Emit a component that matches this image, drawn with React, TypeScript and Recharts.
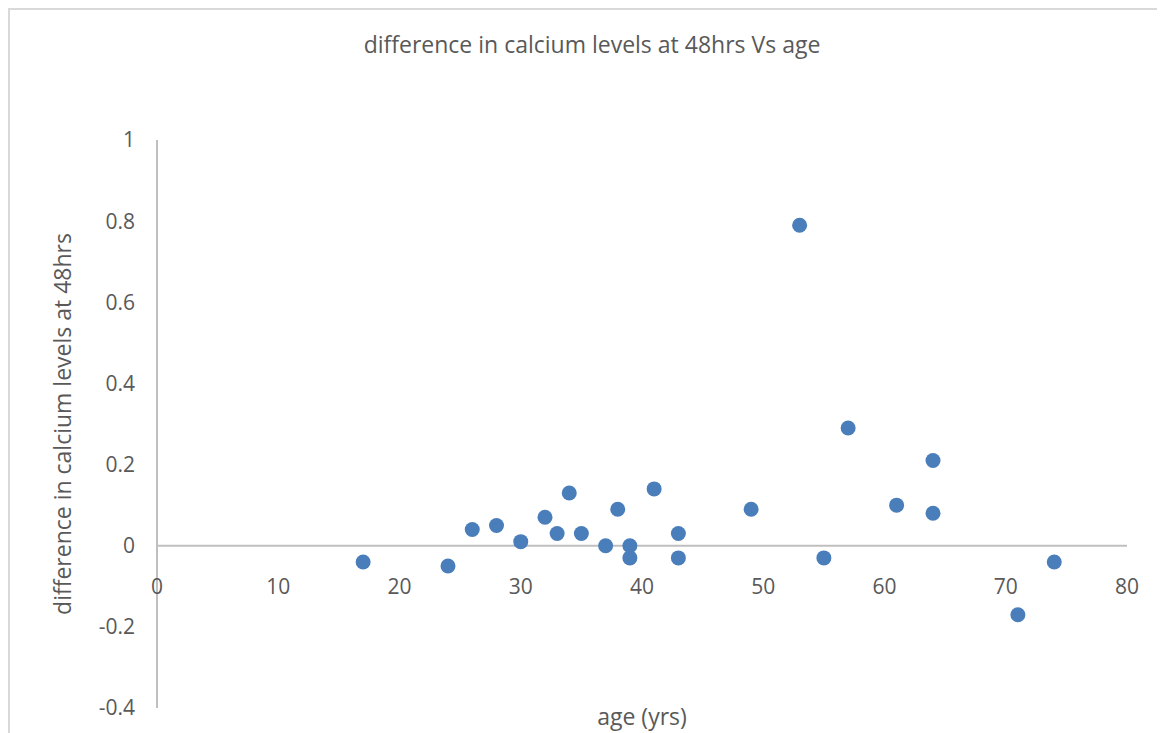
import React from 'react';
import { ScatterChart, Scatter, XAxis, YAxis, Label, ReferenceLine } from 'recharts';

const ages = [17, 24, 26, 28, 30, 32, 33, 34, 35, 37, 38, 39, 39, 41, 43, 43, 49, 53, 55, 57, 61, 64, 64, 71, 74];
const diffs = [-0.04, -0.05, 0.04, 0.05, 0.01, 0.07, 0.03, 0.13, 0.03, 0, 0.09, 0, -0.03, 0.14, 0.03, -0.03, 0.09, 0.79, -0.03, 0.29, 0.1, 0.21, 0.08, -0.17, -0.04];
const xTicks = [0, 10, 20, 30, 40, 50, 60, 70, 80];
const yTicks = [-0.4, -0.2, 0, 0.2, 0.4, 0.6, 0.8, 1];

const title = 'difference in calcium levels at 48hrs Vs age';
const xLabel = 'age (yrs)';
const yLabel = 'difference in calcium levels at 48hrs';

const data = ages.map((a, i) => ({ age: a, diff: diffs[i] }));

const FONT = '"Open Sans", sans-serif';
const FS_TICK = 21;
const FS_LABEL = 23;
const TEXT = '#595959';
const AXIS = '#bfbfbf';

const W = 1147;
const H = 723;
const M = { top: 130, right: 30, bottom: 0, left: 0 };
const XH = 25;
const YW = 147;
const plotTop = M.top;
const plotBottom = H - M.bottom - XH;
const yMin = -0.4;
const yMax = 1;
const zeroY = plotTop + ((yMax - 0) / (yMax - yMin)) * (plotBottom - plotTop);

const fmt = (v: number) => String(Math.round(v * 10) / 10);

const XTick = (props: any) => {
  const { x, payload } = props;
  return (
    <text x={x} y={zeroY + 48} textAnchor="middle" fill={TEXT} fontSize={FS_TICK} fontFamily={FONT}>
      {payload.value}
    </text>
  );
};

const Dot = (props: any) => {
  const { cx, cy } = props;
  return <circle cx={cx} cy={cy} r={7.5} fill="#4a7ebb" />;
};

export default function App() {
  return (
    <div style={{ position: 'relative', borderTop: '2px solid #d9d9d9', borderLeft: '2px solid #d9d9d9', width: W, height: H }}>
      <div
        style={{
          position: 'absolute',
          left: 0,
          top: 18,
          width: 1164,
          textAlign: 'center',
          fontFamily: FONT,
          fontSize: FS_LABEL,
          lineHeight: '32px',
          color: TEXT,
          whiteSpace: 'nowrap',
        }}
      >
        {title}
      </div>
      <ScatterChart width={W} height={H} margin={M}>
        <XAxis
          type="number"
          dataKey="age"
          domain={[0, 80]}
          ticks={xTicks}
          interval={0}
          height={XH}
          axisLine={false}
          tickLine={false}
          tick={<XTick />}
        >
          <Label
            content={(p: any) => {
              const vb = p.viewBox;
              return (
                <text x={vb.x + vb.width / 2} y={vb.y + 17} textAnchor="middle" fill={TEXT} fontSize={FS_LABEL} fontFamily={FONT}>
                  {xLabel}
                </text>
              );
            }}
          />
        </XAxis>
        <YAxis
          type="number"
          dataKey="diff"
          domain={[yMin, yMax]}
          ticks={yTicks}
          interval={0}
          width={YW}
          axisLine={{ stroke: AXIS, strokeWidth: 2 }}
          tickLine={false}
          tickMargin={16}
          tickFormatter={fmt}
          tick={{ fill: TEXT, fontSize: FS_TICK, fontFamily: FONT }}
        >
          <Label
            content={(p: any) => {
              const vb = p.viewBox;
              const cx = 61;
              const cy = vb.y + vb.height / 2;
              return (
                <text x={cx} y={cy} transform={`rotate(-90 ${cx} ${cy})`} textAnchor="middle" fill={TEXT} fontSize={FS_LABEL} fontFamily={FONT}>
                  {yLabel}
                </text>
              );
            }}
          />
        </YAxis>
        <ReferenceLine y={0} stroke={AXIS} strokeWidth={2} />
        <Scatter data={data} shape={<Dot />} isAnimationActive={false} />
      </ScatterChart>
    </div>
  );
}
